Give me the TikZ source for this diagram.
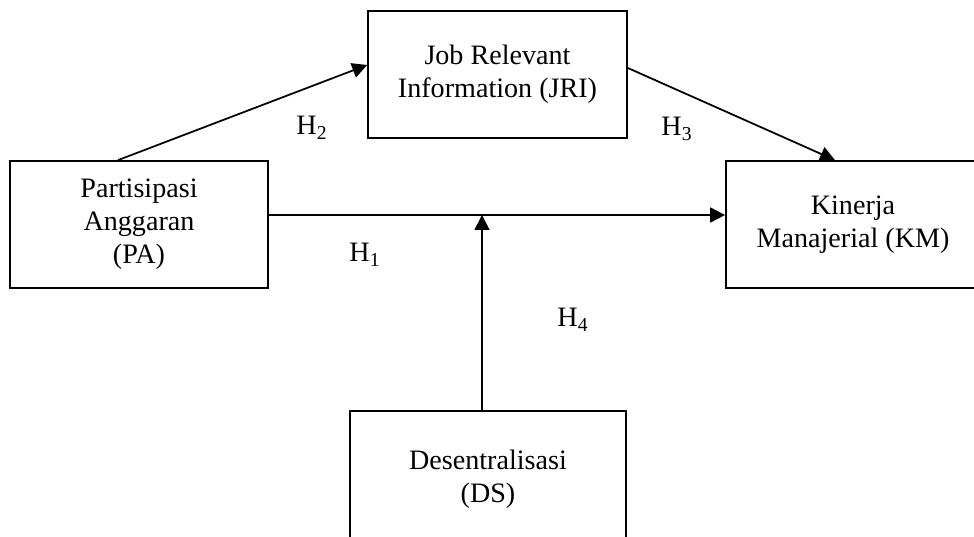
\documentclass[tikz,border=0pt]{standalone}
\usepackage{fontspec}
\setmainfont{Liberation Serif}
\usetikzlibrary{arrows.meta,positioning}

\tikzset{
	var/.style={draw, line width=1pt, rectangle, align=center, font=\fontsize{16}{18.8}\selectfont},
	hyp/.style={font=\fontsize{16}{18.8}\selectfont, inner sep=0pt},
	link/.style={line width=1pt, -{Triangle[length=8.5pt, width=8.5pt]}}
}

\begin{document}
\begin{tikzpicture}[x=0.02cm, y=-0.02cm]
		\useasboundingbox (0,0) rectangle (974,537);

		\draw (139,224.5) node [var, minimum width=5.16cm, minimum height=2.54cm] (pa) {Partisipasi\\Anggaran\\(PA)};
		\draw (497.5,74.5) node [var, minimum width=5.18cm, minimum height=2.54cm] (jri) {Job Relevant\\Information (JRI)};
		\draw (853,224.5) node [var, minimum width=5.08cm, minimum height=2.54cm] (km) {Kinerja\\Manajerial (KM)};
		\draw (488,479) node [var, minimum width=5.52cm, minimum height=2.72cm] (ds) {Desentralisasi\\(DS)};

		\coordinate (meet) at (482,215);

		\draw [link] ([xshift=-0.42cm]pa.north) -- ([yshift=0.19cm]jri.west);
		\draw [link] ([yshift=0.13cm]jri.east) -- ([xshift=-0.36cm]km.north);
		\draw [link] ([yshift=0.19cm]pa.east) -- ([yshift=0.19cm]km.west);
		\draw [link] ([xshift=-0.12cm]ds.north) -- (meet);

		\node [hyp] (h1) at (365,255) {H\textsubscript{1}};
		\node [hyp] (h2) at (312,128) {H\textsubscript{2}};
		\node [hyp] (h3) at (677,129) {H\textsubscript{3}};
		\node [hyp] (h4) at (573,320) {H\textsubscript{4}};
	\end{tikzpicture}
\end{document}
